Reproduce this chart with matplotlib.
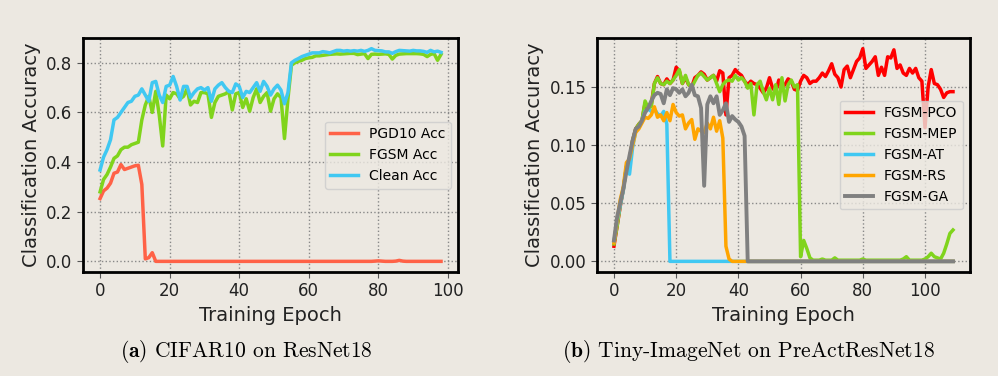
import numpy as np
import matplotlib
matplotlib.use('Agg')
import matplotlib.pyplot as plt

plt.rcParams['mathtext.fontset'] = 'cm'

# (a) CIFAR10 on ResNet18
epochs_a = np.arange(99)
pgd10_acc = [
    0.253, 0.284, 0.295, 0.315, 0.355, 0.36, 0.39, 0.37, 0.375, 0.38,
    0.385, 0.387, 0.31, 0.01, 0.015, 0.035, 0.0, 0.0, 0.0, 0.0,
    0.0, 0.0, 0.0, 0.0, 0.0, 0.0, 0.0, 0.0, 0.0, 0.0,
    0.0, 0.0, 0.0, 0.0, 0.0, 0.0, 0.0, 0.0, 0.0, 0.0,
    0.0, 0.0, 0.0, 0.0, 0.0, 0.0, 0.0, 0.0, 0.0, 0.0,
    0.0, 0.0, 0.0, 0.0, 0.0, 0.0, 0.0, 0.0, 0.0, 0.0,
    0.0, 0.0, 0.0, 0.0, 0.0, 0.0, 0.0, 0.0, 0.0, 0.0,
    0.0, 0.0, 0.0, 0.0, 0.0, 0.0, 0.0, 0.0, 0.0, 0.001,
    0.002, 0.001, 0.0, 0.0, 0.0, 0.001, 0.004, 0.001, 0.0, 0.0,
    0.0, 0.0, 0.0, 0.0, 0.0, 0.0, 0.0, 0.0, 0.0,
]
fgsm_acc = [
    0.28, 0.33, 0.35, 0.38, 0.415, 0.425, 0.45, 0.46, 0.46, 0.47,
    0.475, 0.48, 0.57, 0.63, 0.665, 0.60, 0.685, 0.59, 0.465, 0.67,
    0.655, 0.68, 0.675, 0.655, 0.665, 0.695, 0.63, 0.645, 0.64, 0.68,
    0.68, 0.675, 0.58, 0.64, 0.665, 0.67, 0.675, 0.685, 0.61, 0.675,
    0.68, 0.62, 0.655, 0.605, 0.66, 0.695, 0.64, 0.665, 0.68, 0.605,
    0.655, 0.675, 0.66, 0.495, 0.655, 0.79, 0.80, 0.806, 0.81, 0.817,
    0.82, 0.822, 0.828, 0.828, 0.83, 0.832, 0.834, 0.835, 0.836, 0.835,
    0.836, 0.837, 0.838, 0.838, 0.833, 0.835, 0.837, 0.817, 0.834, 0.835,
    0.834, 0.835, 0.836, 0.834, 0.815, 0.83, 0.835, 0.836, 0.837, 0.837,
    0.837, 0.837, 0.836, 0.834, 0.825, 0.834, 0.837, 0.81, 0.834,
]
clean_acc = [
    0.368, 0.42, 0.45, 0.49, 0.57, 0.58, 0.60, 0.62, 0.64, 0.645,
    0.665, 0.67, 0.695, 0.67, 0.645, 0.72, 0.725, 0.67, 0.64, 0.705,
    0.71, 0.745, 0.705, 0.65, 0.705, 0.705, 0.66, 0.68, 0.695, 0.70,
    0.69, 0.70, 0.645, 0.695, 0.71, 0.72, 0.70, 0.685, 0.68, 0.715,
    0.705, 0.66, 0.685, 0.68, 0.70, 0.72, 0.685, 0.725, 0.705, 0.67,
    0.695, 0.71, 0.69, 0.635, 0.68, 0.80, 0.81, 0.817, 0.825, 0.83,
    0.835, 0.84, 0.84, 0.84, 0.845, 0.843, 0.84, 0.845, 0.85, 0.85,
    0.847, 0.849, 0.847, 0.849, 0.847, 0.85, 0.846, 0.85, 0.857, 0.85,
    0.849, 0.848, 0.844, 0.844, 0.838, 0.845, 0.85, 0.849, 0.848, 0.847,
    0.85, 0.848, 0.848, 0.846, 0.842, 0.85, 0.844, 0.847, 0.842,
]

# (b) Tiny-ImageNet on PreActResNet18
epochs_b = np.arange(110)
fgsm_pco = [
    0.013, 0.030, 0.047, 0.062, 0.081, 0.088, 0.104, 0.114, 0.118, 0.121,
    0.136, 0.132, 0.135, 0.153, 0.159, 0.153, 0.152, 0.157, 0.153, 0.156,
    0.167, 0.164, 0.153, 0.158, 0.152, 0.150, 0.158, 0.160, 0.163, 0.161,
    0.156, 0.158, 0.160, 0.155, 0.164, 0.162, 0.126, 0.158, 0.160, 0.165,
    0.162, 0.160, 0.155, 0.152, 0.155, 0.153, 0.152, 0.149, 0.145, 0.149,
    0.158, 0.149, 0.146, 0.156, 0.150, 0.152, 0.157, 0.155, 0.148, 0.147,
    0.155, 0.160, 0.158, 0.153, 0.155, 0.155, 0.158, 0.162, 0.159, 0.164,
    0.170, 0.161, 0.158, 0.150, 0.165, 0.168, 0.158, 0.165, 0.172, 0.175,
    0.183, 0.166, 0.169, 0.172, 0.176, 0.160, 0.167, 0.160, 0.176, 0.175,
    0.182, 0.166, 0.169, 0.162, 0.160, 0.166, 0.162, 0.166, 0.158, 0.155,
    0.115, 0.150, 0.165, 0.153, 0.152, 0.148, 0.141, 0.145, 0.146, 0.146,
]
fgsm_mep = [
    0.015, 0.030, 0.048, 0.062, 0.081, 0.088, 0.104, 0.114, 0.118, 0.121,
    0.138, 0.132, 0.133, 0.153, 0.158, 0.153, 0.152, 0.155, 0.153, 0.156,
    0.160, 0.165, 0.153, 0.160, 0.152, 0.150, 0.155, 0.160, 0.162, 0.159,
    0.156, 0.158, 0.160, 0.153, 0.146, 0.152, 0.155, 0.156, 0.155, 0.160,
    0.156, 0.158, 0.155, 0.149, 0.153, 0.126, 0.152, 0.155, 0.146, 0.139,
    0.149, 0.139, 0.152, 0.135, 0.158, 0.138, 0.152, 0.156, 0.150, 0.152,
    0.004, 0.018, 0.011, 0.003, 0.001, 0.001, 0.001, 0.002, 0.001, 0.001,
    0.001, 0.003, 0.001, 0.001, 0.001, 0.001, 0.001, 0.001, 0.001, 0.001,
    0.002, 0.001, 0.001, 0.001, 0.001, 0.001, 0.001, 0.001, 0.001, 0.001,
    0.001, 0.001, 0.001, 0.002, 0.004, 0.001, 0.001, 0.001, 0.001, 0.001,
    0.002, 0.004, 0.007, 0.004, 0.003, 0.002, 0.007, 0.015, 0.024, 0.027,
]
fgsm_at = [
    0.017, 0.034, 0.048, 0.061, 0.082, 0.075, 0.098, 0.112, 0.115, 0.121,
    0.129, 0.131, 0.129, 0.131, 0.127, 0.125, 0.129, 0.118, 0.0, 0.0,
    0.0, 0.0, 0.0, 0.0, 0.0, 0.0, 0.0, 0.0, 0.0, 0.0,
    0.0, 0.0, 0.0, 0.0, 0.0, 0.0, 0.0, 0.0, 0.0, 0.0,
    0.0, 0.0, 0.0, 0.0, 0.0, 0.0, 0.0, 0.0, 0.0, 0.0,
    0.0, 0.0, 0.0, 0.0, 0.0, 0.0, 0.0, 0.0, 0.0, 0.0,
    0.0, 0.0, 0.0, 0.0, 0.0, 0.0, 0.0, 0.0, 0.0, 0.0,
    0.0, 0.0, 0.0, 0.0, 0.0, 0.0, 0.0, 0.0, 0.0, 0.0,
    0.0, 0.0, 0.0, 0.0, 0.0, 0.0, 0.0, 0.0, 0.0, 0.0,
    0.0, 0.0, 0.0, 0.0, 0.0, 0.0, 0.0, 0.0, 0.0, 0.0,
    0.0, 0.0, 0.0, 0.0, 0.0, 0.0, 0.0, 0.0, 0.0, 0.0,
]
fgsm_rs = [
    0.016, 0.035, 0.053, 0.064, 0.085, 0.088, 0.100, 0.111, 0.114, 0.119,
    0.124, 0.123, 0.126, 0.133, 0.124, 0.126, 0.121, 0.128, 0.121, 0.135,
    0.128, 0.125, 0.126, 0.114, 0.119, 0.122, 0.105, 0.114, 0.112, 0.111,
    0.119, 0.114, 0.124, 0.112, 0.121, 0.106, 0.013, 0.002, 0.0, 0.0,
    0.0, 0.0, 0.0, 0.0, 0.0, 0.0, 0.0, 0.0, 0.0, 0.0,
    0.0, 0.0, 0.0, 0.0, 0.0, 0.0, 0.0, 0.0, 0.0, 0.0,
    0.0, 0.0, 0.0, 0.0, 0.0, 0.0, 0.0, 0.0, 0.0, 0.0,
    0.0, 0.0, 0.0, 0.0, 0.0, 0.0, 0.0, 0.0, 0.0, 0.0,
    0.0, 0.0, 0.0, 0.0, 0.0, 0.0, 0.0, 0.0, 0.0, 0.0,
    0.0, 0.0, 0.0, 0.0, 0.0, 0.0, 0.0, 0.0, 0.0, 0.0,
    0.0, 0.0, 0.0, 0.0, 0.0, 0.0, 0.0, 0.0, 0.0, 0.0,
]
fgsm_ga = [
    0.018, 0.038, 0.050, 0.062, 0.077, 0.091, 0.104, 0.114, 0.116, 0.121,
    0.128, 0.132, 0.138, 0.143, 0.145, 0.144, 0.136, 0.148, 0.143, 0.149,
    0.148, 0.145, 0.148, 0.142, 0.145, 0.152, 0.143, 0.142, 0.132, 0.065,
    0.135, 0.142, 0.136, 0.142, 0.126, 0.130, 0.136, 0.120, 0.125, 0.122,
    0.120, 0.116, 0.108, 0.0, 0.0, 0.0, 0.0, 0.0, 0.0, 0.0,
    0.0, 0.0, 0.0, 0.0, 0.0, 0.0, 0.0, 0.0, 0.0, 0.0,
    0.0, 0.0, 0.0, 0.0, 0.0, 0.0, 0.0, 0.0, 0.0, 0.0,
    0.0, 0.0, 0.0, 0.0, 0.0, 0.0, 0.0, 0.0, 0.0, 0.0,
    0.0, 0.0, 0.0, 0.0, 0.0, 0.0, 0.0, 0.0, 0.0, 0.0,
    0.0, 0.0, 0.0, 0.0, 0.0, 0.0, 0.0, 0.0, 0.0, 0.0,
    0.0, 0.0, 0.0, 0.0, 0.0, 0.0, 0.0, 0.0, 0.0, 0.0,
]

bg = '#ece8e1'
red_a = '#ff6247'
green = '#80d41c'
cyan = '#40c8f2'

fig = plt.figure(figsize=(9.98, 3.76), dpi=100, facecolor=bg)
ax1 = fig.add_axes([0.0832, 0.2766, 0.3758, 0.6223])
ax2 = fig.add_axes([0.5982, 0.2766, 0.3737, 0.6223])

ax1.plot(epochs_a, pgd10_acc, color=red_a, lw=2.5, label='PGD10 Acc')
ax1.plot(epochs_a, fgsm_acc, color=green, lw=2.5, label='FGSM Acc')
ax1.plot(epochs_a, clean_acc, color=cyan, lw=2.5, label='Clean Acc')
ax1.set_xticks([0, 20, 40, 60, 80, 100])
ax1.set_yticks([0.0, 0.2, 0.4, 0.6, 0.8])

ax2.plot(epochs_b, fgsm_pco, color='#ff0000', lw=2.5, label='FGSM-PCO')
ax2.plot(epochs_b, fgsm_mep, color=green, lw=2.5, label='FGSM-MEP')
ax2.plot(epochs_b, fgsm_at, color=cyan, lw=2.5, label='FGSM-AT')
ax2.plot(epochs_b, fgsm_rs, color='#ffa500', lw=2.5, label='FGSM-RS')
ax2.plot(epochs_b, fgsm_ga, color='#808080', lw=2.8, label='FGSM-GA')
ax2.set_xticks([0, 20, 40, 60, 80, 100])
ax2.set_yticks([0.0, 0.05, 0.10, 0.15])

for ax in (ax1, ax2):
    ax.set_facecolor(bg)
    ax.grid(True, linestyle=':', color='#888888', lw=1)
    for s in ax.spines.values():
        s.set_linewidth(2)
        s.set_color('black')
    ax.tick_params(labelsize=12, length=4, color='#555555', labelcolor='#222222')
    ax.set_xlabel('Training Epoch', fontsize=14, color='#222222')
    ax.set_ylabel('Classification Accuracy', fontsize=14, color='#222222')
    ax.legend(loc='center right', fontsize=10, facecolor=bg, edgecolor='#cccccc')

ax2.yaxis.set_major_formatter(matplotlib.ticker.FormatStrFormatter('%.2f'))

fig.text(0.247, 0.064, r'$\mathbf{(a)}$ CIFAR10 on ResNet18', family='cmr10',
         fontsize=15.5, ha='center', va='center')
fig.text(0.750, 0.064, r'$\mathbf{(b)}$ Tiny-ImageNet on PreActResNet18',
         family='cmr10', fontsize=15.5, ha='center', va='center')

fig.savefig('out.png', dpi=100, facecolor=bg)
